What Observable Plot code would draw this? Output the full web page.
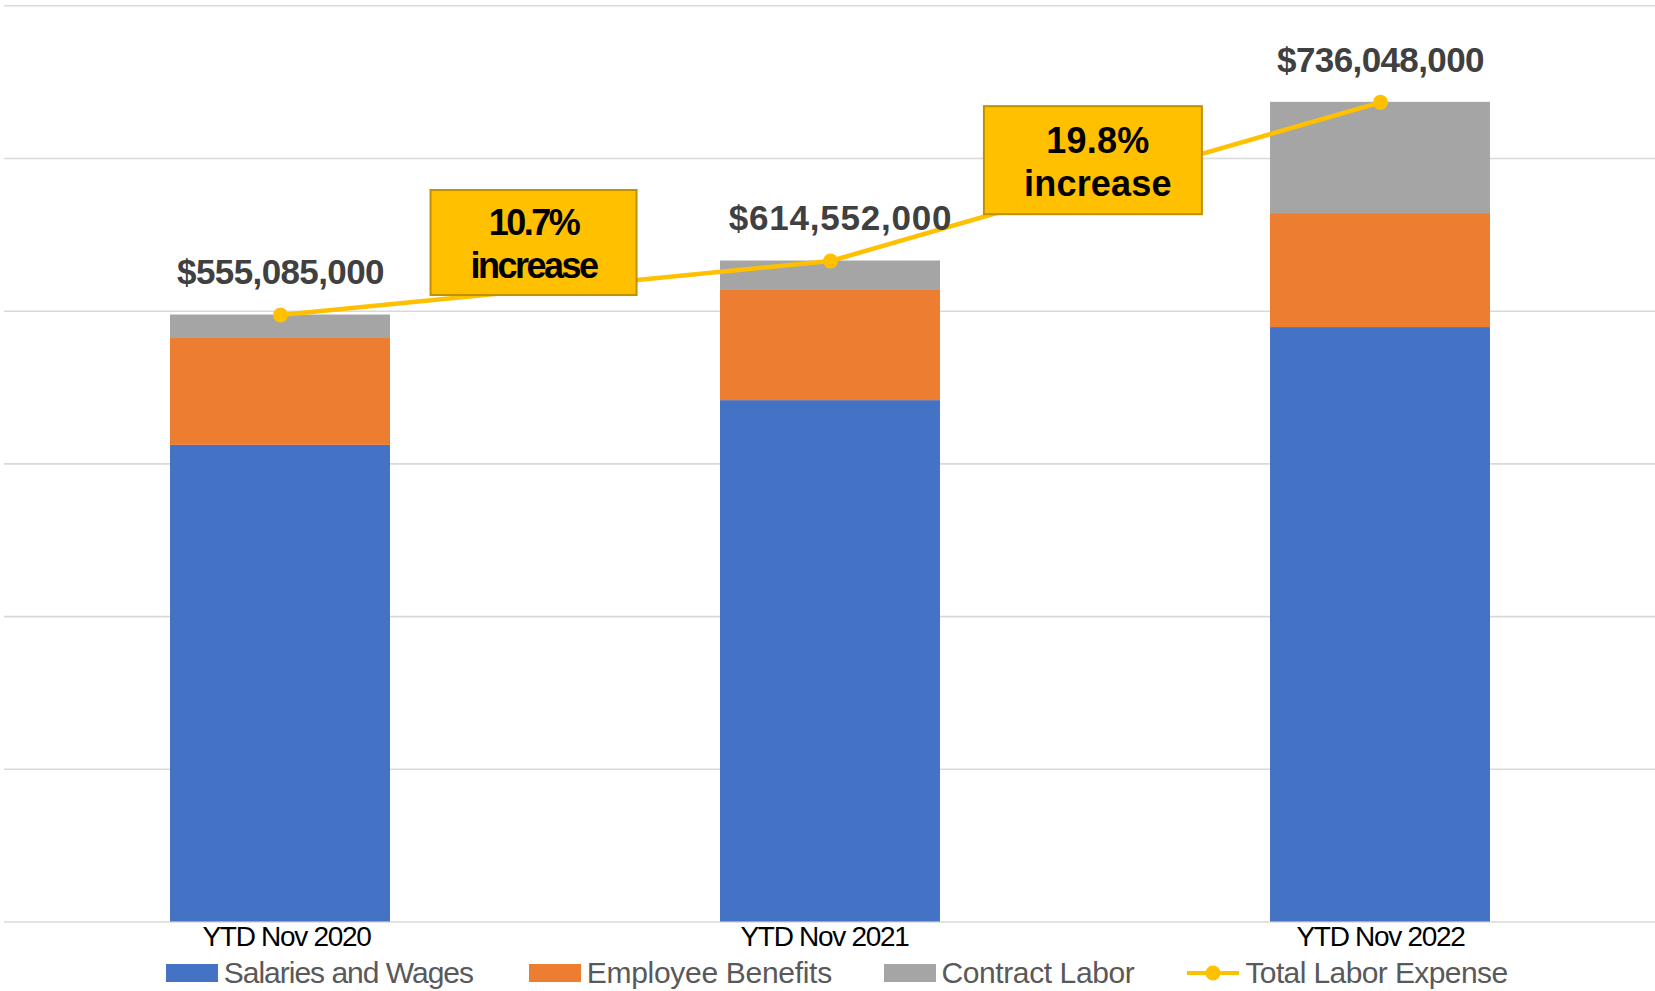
<!DOCTYPE html>
<html>
<head>
<meta charset="utf-8">
<script src="https://cdn.jsdelivr.net/npm/d3@7"></script>
<script src="https://cdn.jsdelivr.net/npm/@observablehq/plot@0.6"></script>
<style>
  html, body { margin: 0; padding: 0; background: #fff; }
  body { font-family: "Liberation Sans", Arial, sans-serif; }
  #chart { width: 1655px; }
  #chart svg { display: block; }
  #legend { position: relative; width: 1655px; height: 39px; }
  .item { position: absolute; top: 0; height: 42px; display: flex; align-items: center;
          font-size: 30px; color: #595959; white-space: nowrap; }
  .sw { display: inline-block; width: 52px; height: 18px; margin-right: 6px; }
  .lsw { display: inline-block; width: 52px; height: 18px; margin-right: 6px; }
</style>
</head>
<body>
<div id="chart"></div>
<div id="legend"></div>
<script>
// ---------- data ----------
const categories = ["YTD Nov 2020", "YTD Nov 2021", "YTD Nov 2022"];
const seriesNames = ["Salaries and Wages", "Employee Benefits", "Contract Labor"];
const lineName = "Total Labor Expense";
// segment values ($ millions)
const salaries = [437, 478, 545];
const benefits = [98, 101, 104.5];
const contract = [21.5, 27, 102];
const totalLabels = ["$555,085,000", "$614,552,000", "$736,048,000"];
const increaseLabels = ["10.7%", "19.8%"];
const increaseWord = "increase";
const gridTicks = [0, 140, 280, 420, 560, 700, 840];

const colors = ["#4472C4", "#ED7D31", "#A5A5A5"];
const lineColor = "#FFC000";

// ---------- tables ----------
const seriesValues = [salaries, benefits, contract];
const rows = [];
categories.forEach((c, i) => {
  seriesNames.forEach((s, j) => rows.push({category: c, series: s, value: seriesValues[j][i]}));
});
const totals = categories.map((c, i) => ({
  category: c,
  total: salaries[i] + benefits[i] + contract[i],
  label: totalLabels[i]
}));

// ---------- annotation boxes (rendered with the plot's scales) ----------
function increaseBoxes(index, scales) {
  const x = scales.x, y = scales.y;
  const bw = x && x.bandwidth ? x.bandwidth() : 0;
  const layout = [
    {t: 0.461, v: 622.5, w: 206, h: 105, ls: -2.5, tdx: 0},
    {t: 0.478, v: 698,   w: 218, h: 108, ls: 0.2,  tdx: 5}
  ];
  const g = d3.create("svg:g").attr("class", "increase-boxes");
  increaseLabels.forEach((lab, i) => {
    const L = layout[i];
    const x0 = x(categories[i]) + bw / 2;
    const x1 = x(categories[i + 1]) + bw / 2;
    const cx = x0 + L.t * (x1 - x0);
    const cy = y(L.v);
    g.append("rect")
      .attr("x", cx - L.w / 2).attr("y", cy - L.h / 2)
      .attr("width", L.w).attr("height", L.h)
      .attr("fill", "#FFC000").attr("stroke", "#BF9000").attr("stroke-width", 2);
    const t = g.append("text")
      .attr("text-anchor", "middle")
      .attr("font-family", "'Liberation Sans', Arial, sans-serif")
      .attr("font-weight", "bold").attr("font-size", 36)
      .attr("letter-spacing", L.ls)
      .attr("fill", "#000");
    t.append("tspan").attr("x", cx + L.tdx).attr("y", cy - 20).attr("dy", "0.35em").text(lab);
    t.append("tspan").attr("x", cx + L.tdx).attr("y", cy + 23).attr("dy", "0.35em").text(increaseWord);
  });
  return g.node();
}

// small horizontal nudges / spacing of labels, as in the original layout
const totalLabelDx = [0, 10, 0];
const totalLabelSpacing = [-0.6, 0.8, -0.6];
const categoryLabelDx = [6, -6, 0];

// ---------- plot ----------
const plot = Plot.plot({
  width: 1655,
  height: 952,
  marginLeft: 4,
  marginRight: 0,
  marginTop: 5.3,
  marginBottom: 30.5,
  style: {fontFamily: "'Liberation Sans', Arial, sans-serif", background: "#fff"},
  x: {domain: categories, paddingInner: 0.6, paddingOuter: 0.3, axis: null},
  y: {domain: [0, 840], axis: null},
  color: {domain: seriesNames, range: colors},
  marks: [
    Plot.ruleY(gridTicks, {stroke: "#D9D9D9", strokeWidth: 1.6}),
    Plot.barY(rows, {x: "category", y: "value", fill: "series", z: "series"}),
    Plot.line(totals, {x: "category", y: "total", stroke: lineColor, strokeWidth: 4.5}),
    Plot.dot(totals, {x: "category", y: "total", r: 7.5, fill: lineColor, stroke: "none"}),
    increaseBoxes,
    ...totals.map((d, i) => Plot.text([d], {x: "category", y: "total", text: "label",
      dy: -42, dx: totalLabelDx[i], lineAnchor: "middle",
      fontSize: 35, fontWeight: "bold", fill: "#404040"})),
    ...categories.map((c, i) => Plot.text([c], {x: d => d, frameAnchor: "bottom",
      dy: 15, dx: categoryLabelDx[i], lineAnchor: "middle", fontSize: 28, fill: "#000"}))
  ]
});
document.getElementById("chart").appendChild(plot);

// letter spacing tweaks for condensed text
d3.select(plot).selectAll("text").each(function () {
  const s = this.textContent;
  const k = totalLabels.indexOf(s);
  if (k >= 0) this.setAttribute("letter-spacing", String(totalLabelSpacing[k]));
  if (categories.includes(s)) this.setAttribute("letter-spacing", "-1.3");
});

// ---------- legend ----------
const legend = d3.select("#legend");
const legendLefts = [165.7, 528.8, 883.5, 1187.4];
const legendSpacing = [-1.0, -0.3, -0.4, -0.6];
seriesNames.forEach((s, i) => {
  const it = legend.append("div").attr("class", "item")
    .style("left", legendLefts[i] + "px").style("letter-spacing", legendSpacing[i] + "px");
  it.append("span").attr("class", "sw").style("background", colors[i]);
  it.append("span").text(s);
});
{
  const it = legend.append("div").attr("class", "item")
    .style("left", legendLefts[3] + "px").style("letter-spacing", legendSpacing[3] + "px");
  const sv = it.append("svg").attr("class", "lsw").attr("width", 52).attr("height", 18);
  sv.append("line").attr("x1", 0).attr("x2", 52).attr("y1", 9).attr("y2", 9)
    .attr("stroke", lineColor).attr("stroke-width", 4);
  sv.append("circle").attr("cx", 26).attr("cy", 9).attr("r", 7.5).attr("fill", lineColor);
  it.append("span").text(lineName);
}
</script>
</body>
</html>
